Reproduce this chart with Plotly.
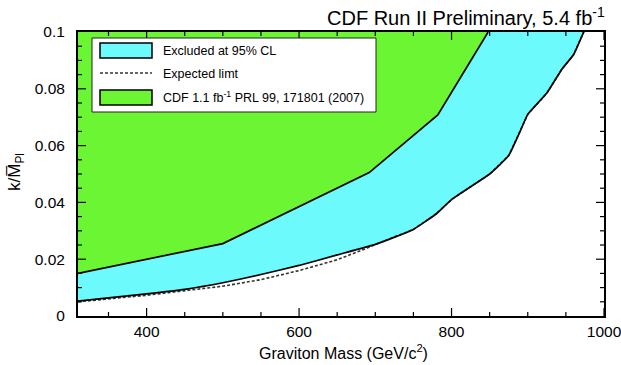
import plotly.graph_objects as go

# ---- data ----
obs_mass = [310, 350, 400, 450, 500, 550, 600, 650, 700, 750, 780, 800, 825, 850, 875, 890, 900, 925, 945, 960, 975]
obs_limit = [0.0052, 0.0064, 0.0078, 0.0094, 0.0117, 0.0146, 0.0178, 0.0215, 0.0252, 0.0305,
             0.0360, 0.0410, 0.0455, 0.0500, 0.0565, 0.0650, 0.0710, 0.0785, 0.0870, 0.0920, 0.1010]
exp_mass = [310, 400, 500, 550, 600, 650, 690, 700, 750, 780, 800, 825, 850, 875, 890, 900, 925, 945, 960, 975]
exp_limit = [0.0050, 0.0073, 0.0105, 0.0128, 0.0160, 0.0198, 0.0240, 0.0252, 0.0305,
             0.0360, 0.0410, 0.0455, 0.0500, 0.0565, 0.0650, 0.0710, 0.0785, 0.0870, 0.0920, 0.1010]
old_mass = [310, 500, 692, 782, 848]
old_limit = [0.0150, 0.0255, 0.0505, 0.0708, 0.1000]
y_top = 0.1
x_range = [310, 1000]
x_major = [400, 600, 800, 1000]
x_minor = [350, 450, 500, 550, 650, 700, 750, 850, 900, 950]
y_major = [0.02, 0.04, 0.06, 0.08]
y_minor = [0.005, 0.01, 0.015, 0.025, 0.03, 0.035, 0.045, 0.05, 0.055,
           0.065, 0.07, 0.075, 0.085, 0.09, 0.095]

CYAN = "#6cfafc"
GREEN = "#6cf532"
FONT = "Liberation Sans, Arial, Helvetica, sans-serif"

fig = go.Figure()
fig.add_trace(go.Scatter(x=obs_mass + [obs_mass[0]], y=obs_limit + [y_top + 0.01],
                         fill="toself", fillcolor=CYAN, mode="none", hoverinfo="skip"))
fig.add_trace(go.Scatter(x=old_mass + [old_mass[-1], old_mass[0]],
                         y=old_limit + [y_top + 0.01, y_top + 0.01],
                         fill="toself", fillcolor=GREEN, mode="none", hoverinfo="skip"))
fig.add_trace(go.Scatter(x=old_mass, y=old_limit, mode="lines",
                         line=dict(color="black", width=1.7)))
fig.add_trace(go.Scatter(x=exp_mass, y=exp_limit, mode="lines",
                         line=dict(color="#333333", width=1.6, dash="3px,2px")))
fig.add_trace(go.Scatter(x=obs_mass, y=obs_limit, mode="lines", line_shape="spline",
                         line=dict(color="black", width=1.7, smoothing=0.4)))

axis_common = dict(showline=True, linecolor="black", linewidth=2, mirror=True,
                   ticks="", showgrid=False, zeroline=False,
                   automargin=False, ticklabeloverflow="allow",
                   tickfont=dict(family=FONT, size=15.5, color="black"))
fig.update_xaxes(range=x_range, tickvals=x_major, **axis_common)
fig.update_yaxes(range=[0, y_top], tickvals=[0] + y_major + [y_top], ticklabelstandoff=8,
                 **axis_common)

L, R, T, B = 78, 604, 32, 316

def px(x):
    return (x - L) / float(R - L)

def py(y):
    return (B - y) / float(B - T)

shapes = []
# tick marks on all four sides, drawn above the filled regions
for vals, ln in ((x_major, 8), (x_minor, 4)):
    for v in vals:
        shapes.append(dict(type="line", xref="x", yref="paper", ysizemode="pixel", yanchor=0,
                           x0=v, x1=v, y0=0, y1=ln, line=dict(color="black", width=1.2)))
        shapes.append(dict(type="line", xref="x", yref="paper", ysizemode="pixel", yanchor=1,
                           x0=v, x1=v, y0=0, y1=-ln, line=dict(color="black", width=1.2)))
for vals, ln in ((y_major, 8), (y_minor, 4)):
    for v in vals:
        shapes.append(dict(type="line", yref="y", xref="paper", xsizemode="pixel", xanchor=0,
                           y0=v, y1=v, x0=0, x1=ln, line=dict(color="black", width=1.2)))
        shapes.append(dict(type="line", yref="y", xref="paper", xsizemode="pixel", xanchor=1,
                           y0=v, y1=v, x0=0, x1=-ln, line=dict(color="black", width=1.2)))

# legend drawn manually
shapes += [
    dict(type="rect", xref="paper", yref="paper", x0=px(92), x1=px(376), y0=py(112), y1=py(38),
         fillcolor="white", line=dict(color="#222", width=1)),
    dict(type="rect", xref="paper", yref="paper", x0=px(100), x1=px(152), y0=py(58), y1=py(43),
         fillcolor=CYAN, line=dict(color="black", width=1.5)),
    dict(type="line", xref="paper", yref="paper", x0=px(100), x1=px(152), y0=py(73), y1=py(73),
         line=dict(color="#333", width=1.5, dash="3px,2px")),
    dict(type="rect", xref="paper", yref="paper", x0=px(100), x1=px(152), y0=py(105), y1=py(90),
         fillcolor=GREEN, line=dict(color="black", width=1.5)),
]
leg_font = dict(family=FONT, size=12.5, color="black")
annotations = [
    dict(text="Excluded at 95% CL", x=px(161), y=py(51), xref="paper", yref="paper",
         xanchor="left", yanchor="middle", showarrow=False, font=leg_font),
    dict(text="Expected limt", x=px(161), y=py(74), xref="paper", yref="paper",
         xanchor="left", yanchor="middle", showarrow=False, font=leg_font),
    dict(text="CDF 1.1 fb<sup>-1</sup> PRL 99, 171801 (2007)", x=px(161), y=py(97),
         xref="paper", yref="paper", xanchor="left", yanchor="middle", showarrow=False, font=leg_font),
    dict(text="CDF Run II Preliminary, 5.4 fb<sup>-1</sup>", x=px(607), y=py(16), xref="paper", yref="paper",
         xanchor="right", yanchor="middle", showarrow=False,
         font=dict(family=FONT, size=20, color="black")),
    dict(text="Graviton Mass (GeV/c<sup>2</sup>)", x=px(343), y=py(352), xref="paper", yref="paper",
         xanchor="center", yanchor="middle", showarrow=False,
         font=dict(family=FONT, size=16, color="black")),
    dict(text="k/M\u0305<sub>Pl</sub>", x=px(16), y=py(172), xref="paper", yref="paper",
         xanchor="center", yanchor="middle", showarrow=False, textangle=-90,
         font=dict(family=FONT, size=17, color="black")),
]

fig.update_layout(width=621, height=365, margin=dict(l=L, r=621 - R, t=T, b=365 - B),
                  plot_bgcolor="white", paper_bgcolor="white", showlegend=False,
                  shapes=shapes, annotations=annotations)

fig.write_html("out.html")
